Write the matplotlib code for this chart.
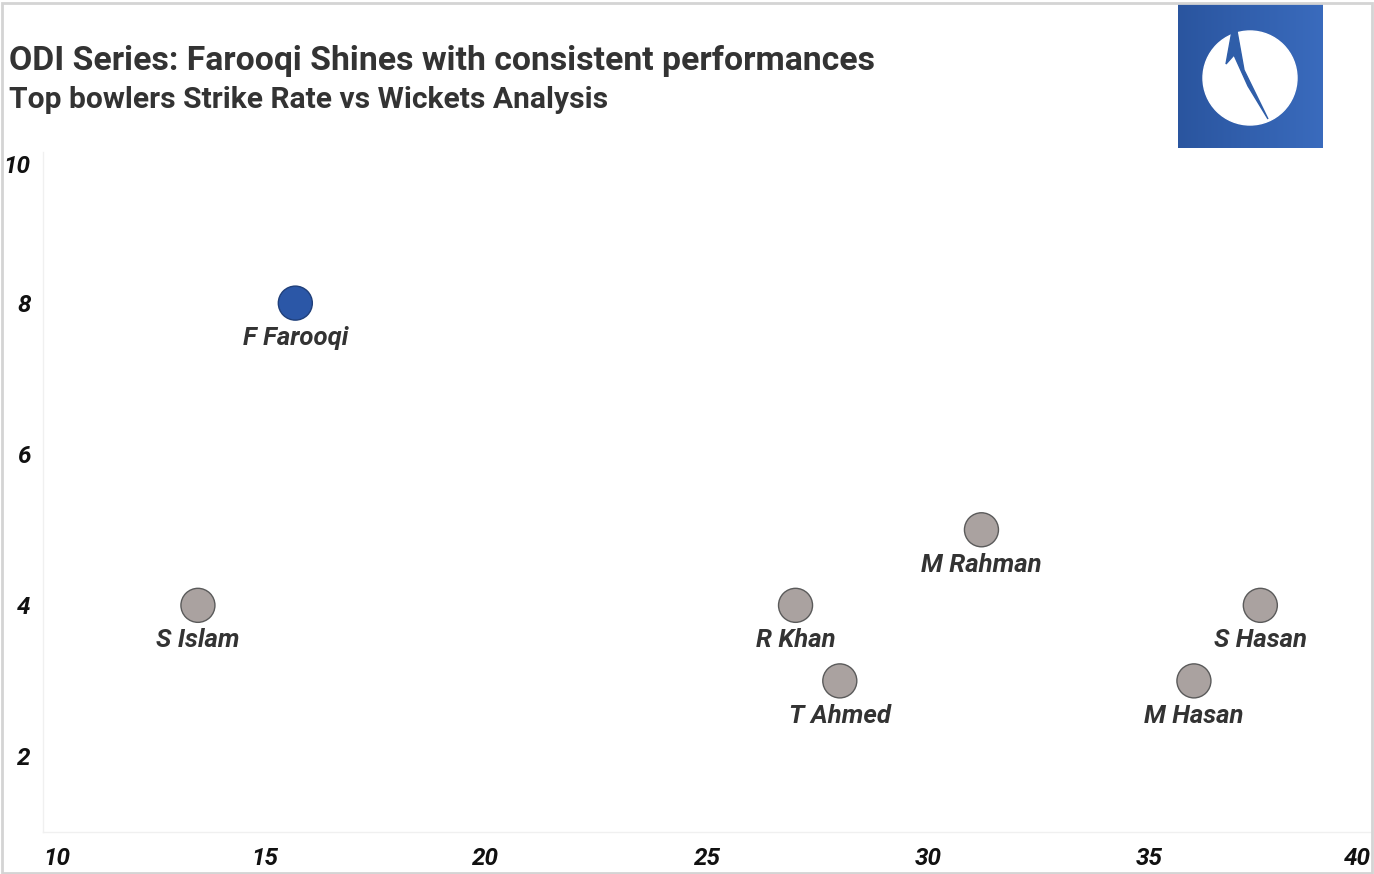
import matplotlib.pyplot as plt
import numpy as np
from matplotlib.patches import Circle, Polygon, Rectangle
from matplotlib.colors import LinearSegmentedColormap
from matplotlib.transforms import ScaledTranslation

plt.rcParams['font.family'] = ['Roboto', 'DejaVu Sans']

# Data
players = ["F Farooqi", "S Islam", "R Khan", "T Ahmed", "M Rahman", "S Hasan", "M Hasan"]
strike_rate = [15.7, 13.5, 27.0, 28.0, 31.2, 37.5, 36.0]
wickets = [8, 4, 4, 3, 5, 4, 3]
highlight = "F Farooqi"
x_ticks = [10, 15, 20, 25, 30, 35, 40]
y_ticks = [2, 4, 6, 8, 10]

W, H = 1374, 874
fig = plt.figure(figsize=(W / 100, H / 100), dpi=100)
fig.patch.set_facecolor('white')

# Light frame around the whole picture
fig.add_artist(Rectangle((1.5 / W, 1.5 / H), (W - 4) / W, (H - 4) / H,
                         transform=fig.transFigure, fill=False,
                         ec='#d4d4d4', lw=2))

ax = fig.add_axes([43 / W, (H - 832) / H, (1371 - 43) / W, (832 - 152) / H])
ax.set_xlim(10, 40)
ax.set_ylim(1, 10)

for side in ['top', 'right']:
    ax.spines[side].set_visible(False)
for side in ['left', 'bottom']:
    ax.spines[side].set_color('#f0f0f0')
    ax.spines[side].set_linewidth(1)

colors = ['#2b57a7' if p == highlight else '#aaa2a0' for p in players]
edges = ['#1f3f7a' if p == highlight else '#5a5a5a' for p in players]
ax.scatter(strike_rate, wickets, s=600, c=colors, edgecolors=edges,
           linewidths=1, zorder=3, clip_on=False)

for name, x, y in zip(players, strike_rate, wickets):
    ax.annotate(name, (x, y), xytext=(0, -25), textcoords='offset points',
                ha='center', va='center', fontsize=18.5, fontweight='bold',
                fontstyle='italic', color='#333333')

ax.set_xticks(x_ticks)
ax.set_yticks(y_ticks)
ax.tick_params(length=0, labelsize=17.5, labelcolor='#111111')
ax.tick_params(axis='x', pad=11)
ax.tick_params(axis='y', pad=9)
for lab in ax.get_xticklabels() + ax.get_yticklabels():
    lab.set_fontweight('bold')
    lab.set_fontstyle('italic')
xl = ax.get_xticklabels()
xl[0].set_ha('left')
xl[-1].set_ha('right')
yl = ax.get_yticklabels()
yl[-1].set_va('top')
yl[-1].set_transform(yl[-1].get_transform() +
                     ScaledTranslation(0, -2 / 72, fig.dpi_scale_trans))

# Titles
fig.text(9 / W, 1 - 61 / H, "ODI Series: Farooqi Shines with consistent performances",
         ha='left', va='center', fontsize=24.3, fontweight='bold', color='#333333')
fig.text(9 / W, 1 - 100 / H, "Top bowlers Strike Rate vs Wickets Analysis",
         ha='left', va='center', fontsize=21.6, fontweight='bold', color='#333333')

# Logo
lx0, ly0, lx1, ly1 = 1178, 4, 1323, 148
lax = fig.add_axes([lx0 / W, (H - ly1) / H, (lx1 - lx0) / W, (ly1 - ly0) / H])
lax.set_xlim(lx0, lx1)
lax.set_ylim(ly1, ly0)
lax.axis('off')
grad = np.linspace(0, 1, 256).reshape(1, -1)
cmap = LinearSegmentedColormap.from_list('logo', ['#2a559f', '#3a6bbd'])
lax.imshow(grad, extent=(lx0, lx1, ly1, ly0), aspect='auto', cmap=cmap, zorder=0)
lax.add_patch(Circle((1250, 78), 47, color='white', zorder=1))
lax.add_patch(Polygon([(1232, 31), (1226, 64), (1234, 55), (1248, 86),
                       (1268, 119), (1244, 70), (1237, 31)],
                      closed=True, color='#2f5ea9', zorder=2))

fig.savefig("out.png", dpi=100)
